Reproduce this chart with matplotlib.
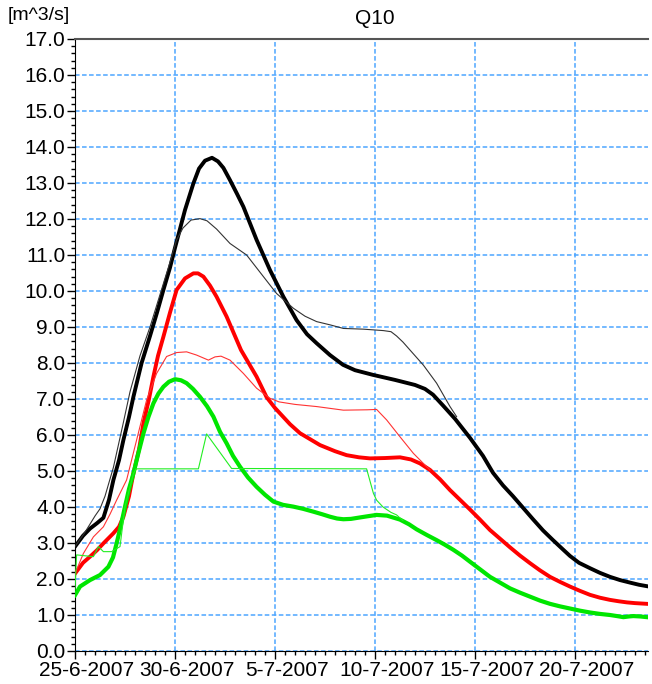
import matplotlib
matplotlib.use("Agg")
import matplotlib.pyplot as plt
import matplotlib.transforms as mtransforms
from matplotlib.ticker import MultipleLocator

plt.rcParams['font.family'] = ['Liberation Sans', 'DejaVu Sans']

# x = days after 25-6-2007, y = discharge [m^3/s]
tick_days = [0, 5, 10, 15, 20, 25]
tick_labels = ["25-6-2007", "30-6-2007", "5-7-2007", "10-7-2007", "15-7-2007", "20-7-2007"]

# thick black
black_d = [0, 0.4, 0.75, 1.1, 1.42, 1.7, 1.92, 2.2, 2.42, 2.7, 2.92, 3.33, 3.75, 4.1, 4.42,
           4.75, 5.0, 5.5, 5.92, 6.2, 6.5, 6.85, 7.15, 7.42, 7.75, 8.1, 8.42, 9.08, 9.75,
           10.42, 11.08, 11.6, 12.08, 12.75, 13.4, 14.0, 14.9, 16.0, 17.0, 17.5, 17.9, 18.4,
           19.0, 19.75, 20.4, 20.9, 21.4, 21.9, 22.4, 22.9, 23.4, 23.9, 24.4, 24.75, 25.2,
           25.75, 26.25, 26.75, 27.25, 27.75, 28.2, 28.6]
black_v = [2.9, 3.2, 3.4, 3.55, 3.7, 4.2, 4.75, 5.3, 5.86, 6.5, 7.06, 8.0, 8.75, 9.4, 10.03,
           10.65, 11.2, 12.25, 12.99, 13.4, 13.62, 13.7, 13.6, 13.42, 13.08, 12.7, 12.34,
           11.42, 10.58, 9.84, 9.19, 8.8, 8.55, 8.22, 7.95, 7.8, 7.67, 7.53, 7.39, 7.28, 7.12,
           6.82, 6.45, 5.92, 5.42, 4.95, 4.6, 4.3, 3.98, 3.66, 3.35, 3.08, 2.82, 2.64, 2.45,
           2.3, 2.17, 2.06, 1.97, 1.9, 1.84, 1.8]

# thin black (only where it differs from the thick one)
black_thin_d = [0, 0.5, 1.0, 1.25, 1.5, 1.92, 2.4, 2.75, 3.25, 3.75, 4.25, 4.75, 5.08, 5.4,
                5.8, 6.25, 6.6, 7.08, 7.75, 8.58, 9.42, 10.08, 10.92, 11.5, 12.08, 12.75,
                13.42, 14.42, 15.42, 15.8, 16.08, 16.4, 16.75, 17.42, 18.08, 18.75, 19.08]
black_thin_v = [2.9, 3.3, 3.75, 3.95, 4.3, 5.1, 6.3, 7.2, 8.2, 9.0, 9.9, 10.8, 11.42, 11.75,
                11.97, 12.01, 11.95, 11.72, 11.32, 11.0, 10.4, 9.93, 9.52, 9.3, 9.15, 9.06,
                8.96, 8.94, 8.9, 8.87, 8.75, 8.58, 8.36, 7.94, 7.44, 6.79, 6.51]

# thick red
red_d = [0, 0.4, 0.75, 1.1, 1.42, 1.92, 2.2, 2.42, 2.7, 2.92, 3.2, 3.42, 3.7, 3.92, 4.15,
         4.42, 4.75, 5.08, 5.5, 5.92, 6.15, 6.42, 6.75, 7.08, 7.58, 8.3, 9.08, 9.58, 10.0,
         10.75, 11.25, 12.25, 13.0, 13.58, 14.2, 14.75, 15.5, 16.25, 16.8, 17.25, 17.75,
         18.25, 18.75, 19.25, 19.75, 20.25, 20.75, 21.25, 21.75, 22.25, 22.75, 23.25, 23.75,
         24.25, 24.75, 25.25, 25.75, 26.25, 26.75, 27.2, 27.6, 28.0, 28.6]
red_v = [2.15, 2.45, 2.62, 2.8, 2.99, 3.27, 3.45, 3.73, 4.3, 4.93, 5.6, 6.32, 7.0, 7.62, 8.2,
         8.73, 9.4, 10.03, 10.35, 10.49, 10.49, 10.4, 10.15, 9.84, 9.29, 8.36, 7.62, 7.05,
         6.75, 6.3, 6.05, 5.72, 5.55, 5.44, 5.38, 5.35, 5.36, 5.38, 5.32, 5.21, 5.03, 4.77,
         4.47, 4.2, 3.93, 3.65, 3.36, 3.12, 2.88, 2.65, 2.44, 2.24, 2.06, 1.92, 1.79, 1.67,
         1.56, 1.48, 1.42, 1.38, 1.35, 1.33, 1.31]

# thin red
red_thin_d = [0, 0.42, 0.92, 1.42, 1.75, 2.08, 2.58, 3.08, 3.58, 4.08, 4.58, 5.08, 5.58,
              6.08, 6.67, 7.0, 7.3, 7.75, 8.42, 9.08, 9.75, 10.2, 11.0, 12.08, 13.42, 14.6,
              15.08, 15.58, 16.25, 16.92, 17.58, 17.75]
red_thin_v = [2.15, 2.71, 3.17, 3.45, 3.8, 4.19, 4.75, 5.86, 6.97, 7.71, 8.18, 8.29, 8.31,
              8.22, 8.08, 8.17, 8.19, 8.08, 7.71, 7.3, 7.02, 6.92, 6.85, 6.79, 6.69, 6.7,
              6.71, 6.42, 5.95, 5.49, 5.12, 5.03]

# thick green
green_d = [0, 0.25, 0.75, 1.25, 1.67, 1.9, 2.08, 2.3, 2.5, 2.7, 2.92, 3.17, 3.42, 3.67,
           3.92, 4.17, 4.42, 4.7, 5.0, 5.3, 5.58, 5.9, 6.25, 6.6, 6.92, 7.25, 7.58, 7.9, 8.25,
           8.65, 9.08, 9.5, 9.92, 10.4, 10.92, 11.4, 11.92, 12.35, 12.75, 13.1, 13.42, 13.8,
           14.25, 14.6, 15.08, 15.6, 16.25, 16.7, 17.08, 17.6, 18.08, 18.5, 18.92, 19.35,
           19.75, 20.25, 20.75, 21.25, 21.75, 22.25, 22.75, 23.25, 23.75, 24.25, 24.75,
           25.25, 25.75, 26.25, 26.75, 27.1, 27.42, 27.7, 27.92, 28.25, 28.6]
green_v = [1.55, 1.79, 1.97, 2.11, 2.34, 2.6, 2.99, 3.5, 4.01, 4.5, 4.93, 5.5, 6.04, 6.5,
           6.88, 7.15, 7.34, 7.48, 7.55, 7.52, 7.44, 7.28, 7.06, 6.8, 6.51, 6.09, 5.77, 5.42,
           5.12, 4.82, 4.56, 4.34, 4.15, 4.06, 4.01, 3.95, 3.87, 3.8, 3.73, 3.68, 3.66, 3.67,
           3.71, 3.74, 3.78, 3.76, 3.65, 3.52, 3.38, 3.22, 3.08, 2.95, 2.81, 2.65, 2.48, 2.27,
           2.06, 1.9, 1.74, 1.62, 1.51, 1.4, 1.31, 1.24, 1.18, 1.12, 1.07, 1.03, 1.0, 0.97,
           0.94, 0.96, 0.97, 0.96, 0.94]

# thin green
green_thin_d = [0, 0.08, 0.92, 1.17, 1.42, 1.83, 2.25, 2.5, 2.92, 3.05, 6.17, 6.58, 7.83,
                14.58, 14.92, 15.08, 15.4, 15.8, 16.08, 16.4]
green_thin_v = [1.7, 2.67, 2.62, 2.9, 2.76, 2.76, 2.9, 4.01, 4.93, 5.06, 5.06, 6.03, 5.07,
                5.06, 4.38, 4.19, 4.0, 3.85, 3.78, 3.62]

fig = plt.figure(figsize=(6.52, 6.84), dpi=100)
ax = fig.add_axes([75 / 652, 33 / 684, 573 / 652, 612 / 684])

ax.plot(black_d, black_v, color='black', lw=2.8, zorder=3)
ax.plot(red_d, red_v, color='#ff0000', lw=2.8, zorder=3)
ax.plot(green_d, green_v, color='#00e600', lw=3.0, zorder=3)
ax.plot(black_thin_d, black_thin_v, color='#333333', lw=0.8, zorder=4)
ax.plot(red_thin_d, red_thin_v, color='#ff3333', lw=0.8, zorder=4)
ax.plot(green_thin_d, green_thin_v, color='#22ee22', lw=0.8, zorder=4)

ax.set_xlim(0, 28.65)
ax.set_ylim(0, 17)
ax.set_xticks(tick_days)
ax.set_xticklabels(tick_labels)
ax.xaxis.set_minor_locator(MultipleLocator(0.5))
ax.yaxis.set_major_locator(MultipleLocator(1))
ax.yaxis.set_minor_locator(MultipleLocator(0.2))
ax.yaxis.set_major_formatter(matplotlib.ticker.FormatStrFormatter('%.1f'))
ax.tick_params(which='major', direction='out', length=6, width=1, labelsize=15, pad=1)
ax.tick_params(which='minor', direction='out', length=3, width=1)

# the date labels sit a little to the right of their ticks
offset = mtransforms.ScaledTranslation(12 / 100, 0, fig.dpi_scale_trans)
for lab in ax.get_xticklabels():
    lab.set_transform(lab.get_transform() + offset)

ax.grid(True, which='major', color='#4da6ff', linestyle=(0, (3, 1.6)), linewidth=1.1)
ax.set_axisbelow(True)
ax.spines['right'].set_visible(False)
ax.spines['top'].set_color('#555555')
ax.spines['top'].set_linewidth(1.5)

fig.text(375 / 652, 1 - 18 / 684, "Q10", ha='center', va='center', fontsize=15)
fig.text(8 / 652, 1 - 15 / 684, "[m^3/s]", ha='left', va='center', fontsize=14)

fig.savefig("out.png", dpi=100)
